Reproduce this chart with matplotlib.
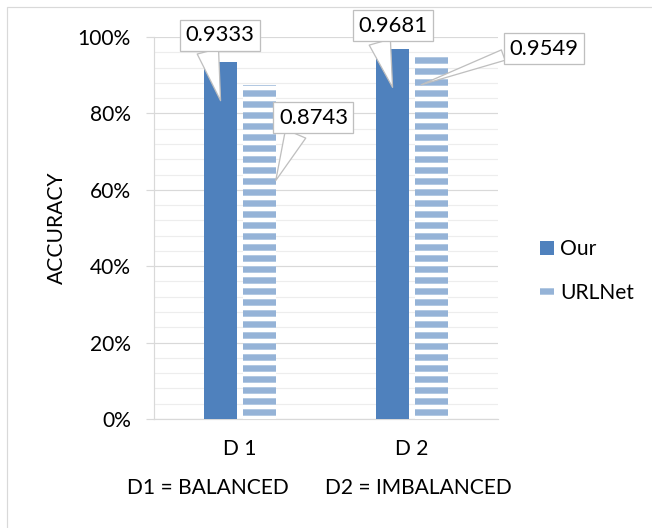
import matplotlib
matplotlib.use('Agg')
import matplotlib.pyplot as plt
from matplotlib.patches import Rectangle
from matplotlib.ticker import MultipleLocator, PercentFormatter
import numpy as np


# accuracy per dataset
datasets = ['D 1', 'D 2']
our = [0.9333, 0.9681]
urlnet = [0.8743, 0.9549]
series_names = ['Our', 'URLNet']
notes = ['D1 = BALANCED', 'D2 = IMBALANCED']

DPI = 66
W, H = 652, 528

OUR_COLOR = '#4F81BD'
URL_COLOR = '#95B3D7'
GRID = '#D9D9D9'
BOX_EDGE = '#BFBFBF'

plt.rcParams['font.family'] = ['Lato', 'DejaVu Sans']
plt.rcParams['hatch.linewidth'] = 7


def px(v):
    # pixels -> points
    return v * 72 / DPI


def main():
    fig = plt.figure(figsize=(W / DPI + 1e-6, H / DPI), dpi=DPI)
    ax = fig.add_axes([154 / W, 1 - 419 / H, 344 / W, 382 / H])

    x = np.arange(len(datasets))
    width = 0.19
    off = 0.113

    b1 = ax.bar(x - off, our, width, color=OUR_COLOR, label=series_names[0], zorder=3)
    b2 = ax.bar(x + off, urlnet, width, color='white', edgecolor=URL_COLOR,
                linewidth=0, hatch='-', label=series_names[1], zorder=3)

    ax.set_xlim(-0.5, 1.5)
    ax.set_ylim(0, 1)
    ax.yaxis.set_major_locator(MultipleLocator(0.2))
    ax.yaxis.set_minor_locator(MultipleLocator(0.04))
    ax.yaxis.set_major_formatter(PercentFormatter(1.0, decimals=0))
    ax.set_xticks(x, datasets)

    ax.set_axisbelow(True)
    ax.grid(which='major', axis='y', color=GRID, lw=1.3)
    ax.grid(which='minor', axis='y', color='#EDEDED', lw=1.3)

    fs = px(21)
    ax.tick_params(axis='y', which='major', length=px(8), width=1.3, color=GRID,
                   pad=px(15), labelsize=fs)
    ax.tick_params(axis='y', which='minor', length=0)
    ax.tick_params(axis='x', length=0, pad=px(20), labelsize=fs)

    for s in ['top', 'right']:
        ax.spines[s].set_visible(False)
    for s in ['left', 'bottom']:
        ax.spines[s].set_color(GRID)
        ax.spines[s].set_linewidth(1.3)

    # callout labels: (value, tip x, tip y, text x, text y, relpos, wedge width)
    callouts = [
        (our[0], x[0] - off, our[0] - 0.10, -0.116, 1.005, (0.3, 0.0), 1.0),
        (urlnet[0], x[0] + off + width / 2, urlnet[0] - 0.25, 0.427, 0.789, (0.28, 0.0), 1.0),
        (our[1], x[1] - off, our[1] - 0.10, 0.887, 1.029, (0.29, 0.0), 1.0),
        (urlnet[1], x[1] + off - 0.06, urlnet[1] - 0.08, 1.767, 0.969, (0.0, 0.3), 0.5),
    ]
    for v, tx, ty, lx, ly, rp, tw in callouts:
        ax.annotate(f'{v:.4f}', xy=(tx, ty), xytext=(lx, ly),
                    ha='center', va='center', fontsize=px(22), zorder=5,
                    annotation_clip=False,
                    bbox=dict(boxstyle='square,pad=0.25', fc='white', ec=BOX_EDGE, lw=1.4),
                    arrowprops=dict(arrowstyle=f'wedge,tail_width={tw}', fc='white',
                                    ec=BOX_EDGE, lw=1.4, shrinkA=0, shrinkB=0, relpos=rp))

    ax.legend(handles=[b1, b2], loc='center left',
              bbox_to_anchor=(540 / W, 1 - 271 / H), bbox_transform=fig.transFigure,
              frameon=False, fontsize=fs, handlelength=0.65, handleheight=0.65,
              handletextpad=0.3, labelspacing=1.1, borderpad=0, borderaxespad=0)

    fig.text(57 / W, 1 - 228 / H, 'ACCURACY', rotation=90, ha='center', va='center', fontsize=fs)
    fig.text(208 / W, 1 - 488 / H, notes[0], ha='center', va='center', fontsize=fs)
    fig.text(418 / W, 1 - 488 / H, notes[1], ha='center', va='center', fontsize=fs)

    # chart area border
    fig.add_artist(Rectangle((7 / W, -0.5), 2, 1 - 7 / H + 0.5, transform=fig.transFigure,
                             fill=False, ec=GRID, lw=1.3))

    fig.savefig('out.png', dpi=DPI)


if __name__ == '__main__':
    main()
